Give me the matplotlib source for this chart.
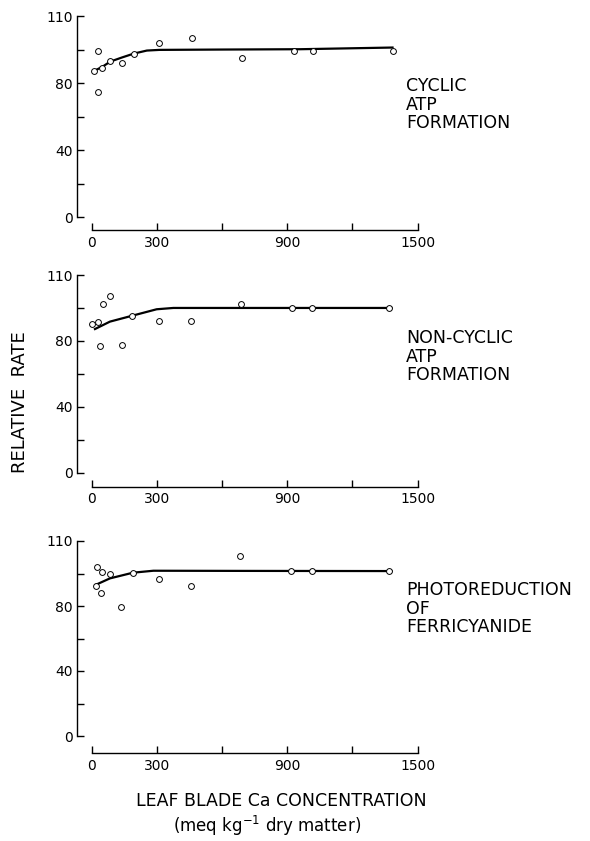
import numpy as np
import matplotlib
matplotlib.use("Agg")
import matplotlib.pyplot as plt

# ---- datos ----
# CYCLIC ATP FORMATION
x_cyc = [9, 28, 28, 48, 85, 140, 194, 312, 462, 691, 932, 1020, 1385]
y_cyc = [87, 99.4, 74.7, 89, 93.4, 92.2, 97.6, 104, 106.6, 94.8, 99, 99, 99.4]
cx_cyc = [12, 50, 85, 140, 194, 254, 312, 600, 961, 1385]
cy_cyc = [87.3, 89.8, 92.8, 95.3, 97.6, 99.4, 99.8, 100.0, 100.2, 101.2]

# NON-CYCLIC ATP FORMATION
x_non = [3, 29, 38, 51, 86, 140, 187, 308, 459, 686, 923, 1015, 1370]
y_non = [90.3, 91.3, 76.9, 102.2, 107.1, 77.3, 95.3, 92.1, 92.3, 102.4, 100.2, 100, 100]
cx_non = [15, 84, 187, 299, 376, 700, 1380]
cy_non = [87.2, 91.7, 95.3, 99.2, 100, 100, 100]

# PHOTOREDUCTION OF FERRICYANIDE
x_fer = [20, 26, 49, 44, 86, 133, 190, 311, 457, 684, 917, 1012, 1370]
y_fer = [92.3, 104, 101.1, 88.2, 99.5, 79.4, 100.3, 96.4, 92.3, 110.6, 101.7, 101.3, 101.3]
cx_fer = [23, 84, 190, 284, 700, 1380]
cy_fer = [93.3, 97, 100.5, 101.7, 101.6, 101.5]

etiquetas = ["CYCLIC\nATP\nFORMATION",
             "NON-CYCLIC\nATP\nFORMATION",
             "PHOTOREDUCTION\nOF\nFERRICYANIDE"]

yticks = [0, 20, 40, 60, 80, 100, 120]
ylabels = ["0", "", "40", "", "80", "", "110"]
xticks = [0, 300, 600, 900, 1200, 1500]
xlabels = ["0", "300", "", "900", "", "1500"]

W, H = 590, 841
fig = plt.figure(figsize=(W / 100, H / 100), dpi=100)

# (px cero, px tope, offset eje x en px, px texto)
paneles = [(217.3, 16.0, 13, 77),
           (472.7, 275.0, 14, 329),
           (736.0, 541.0, 17, 581)]
datos = [(x_cyc, y_cyc, cx_cyc, cy_cyc),
         (x_non, y_non, cx_non, cy_non),
         (x_fer, y_fer, cx_fer, cy_fer)]

x0px, x1px = 91.7, 417.5

for i in range(3):
	p0, p1, off, ty = paneles[i]
	xs, ys, cxs, cys = datos[i]
	ax = fig.add_axes([x0px / W, (H - p0) / H, (x1px - x0px) / W, (p0 - p1) / H])
	ax.plot(cxs, cys, color="black", lw=1.6, zorder=2, clip_on=False)
	ax.plot(xs, ys, "o", mfc="white", mec="black", mew=0.7, ms=4.2, zorder=3, clip_on=False)
	ax.set_xlim(0, 1500)
	ax.set_ylim(0, 120)
	for s in ["top", "right"]:
		ax.spines[s].set_visible(False)
	ax.spines["left"].set_position(("outward", 15 * 0.72))
	ax.spines["bottom"].set_position(("outward", off * 0.72))
	ax.spines["left"].set_linewidth(1.0)
	ax.spines["bottom"].set_linewidth(1.0)
	ax.set_yticks(yticks)
	ax.set_yticklabels(ylabels)
	ax.set_xticks(xticks)
	ax.set_xticklabels(xlabels)
	ax.tick_params(direction="in", length=5, width=1.0, labelsize=10, pad=3)
	ax.tick_params(axis="x", pad=4)
	ax.patch.set_visible(False)
	fig.text(406 / W, 1 - ty / H, etiquetas[i], fontsize=12.5, va="top", ha="left",
	         linespacing=1.05)

fig.text(20 / W, 1 - 402 / H, "RELATIVE  RATE", rotation=90, fontsize=13,
         ha="center", va="center")
fig.text(281 / W, 1 - 801 / H, "LEAF BLADE Ca CONCENTRATION", fontsize=12.5,
         ha="center", va="center")
fig.text(267 / W, 1 - 826 / H, "(meq kg$^{-1}$ dry matter)", fontsize=12,
         ha="center", va="center")

fig.savefig("out.png", dpi=100)
